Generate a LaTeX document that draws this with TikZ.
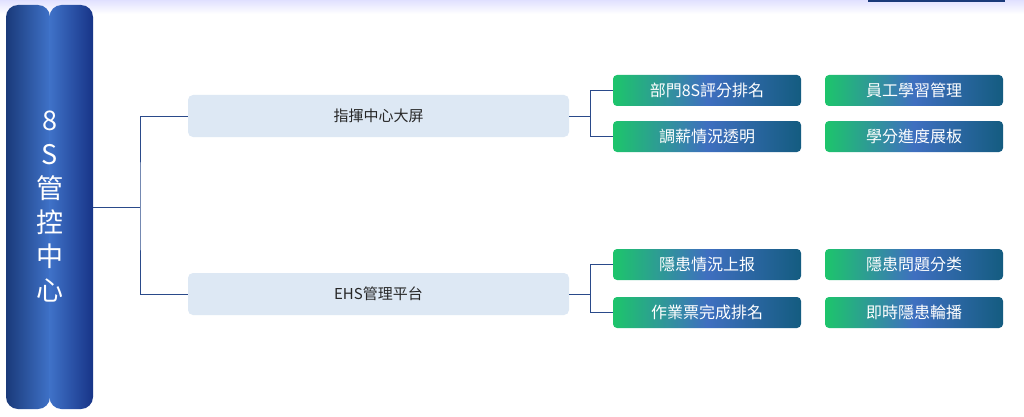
\documentclass[tikz,border=0pt]{standalone}
\usepackage{fontspec}
\newfontfamily\cjk{Noto Sans CJK TC}
\usetikzlibrary{positioning}
\definecolor{ln}{HTML}{2A4A8A}
\definecolor{lb}{HTML}{DDE8F4}
\definecolor{gA}{HTML}{1DC56B}
\definecolor{gB}{HTML}{3F6FC0}
\definecolor{gC}{HTML}{145C80}
\definecolor{bA}{HTML}{1A3A7A}
\definecolor{bB}{HTML}{3F72C8}
\begin{document}
\begin{tikzpicture}[x=1pt,y=-1pt,
  bluebox/.style={fill=lb,rounded corners=5pt,minimum width=381pt,minimum height=42pt,inner sep=0pt,font=\cjk\fontsize{15}{18}\selectfont,text=black!85},
  greenbox/.style={rounded corners=4pt,minimum height=31pt,inner sep=0pt,font=\cjk\fontsize{16}{19}\selectfont,text=white,left color=gA,right color=gC,middle color=gB},
  conn/.style={draw=ln,line width=0.8pt}]
\useasboundingbox (0,0) rectangle (1024,417);
\fill[white] (0,0) rectangle (1024,417);
\shade[top color=blue!12,bottom color=white] (0,0) rectangle (1024,14);
\fill[bA] (868,0) rectangle (1005,2);
\shade[left color=bA,right color=bB,rounded corners=12pt] (6,5) rectangle (50,409);
\shade[left color=bB,right color=bA!90!blue,rounded corners=12pt] (49.5,5) rectangle (93,409);
\node[font=\cjk\fontsize{27}{34}\selectfont,text=white,align=center] (bar) at (49.5,207) {8\\S\\管\\控\\中\\心};
\coordinate (barR) at (93,207);
\node[bluebox] (b1) at (378.5,116) {指揮中心大屏};
\node[bluebox] (b2) at (378.5,294) {EHS管理平台};
\node[greenbox,minimum width=188pt] (g1) at (707,90.5) {部門8S評分排名};
\node[greenbox,minimum width=188pt] (g2) at (707,136.5) {調薪情況透明};
\node[greenbox,minimum width=178pt] (g3) at (914,90.5) {員工學習管理};
\node[greenbox,minimum width=178pt] (g4) at (914,136.5) {學分進度展板};
\node[greenbox,minimum width=188pt] (g5) at (707,264.5) {隱患情況上报};
\node[greenbox,minimum width=188pt] (g6) at (707,312.5) {作業票完成排名};
\node[greenbox,minimum width=178pt] (g7) at (914,264.5) {隱患問題分类};
\node[greenbox,minimum width=178pt] (g8) at (914,312.5) {即時隱患輪播};
\draw[conn] (barR) -- (140,207);
\draw[conn] (b1.west) -| (140,207) |- (b2.west);
\draw[conn] (b1.east) -- (590,116);
\draw[conn] (g1.west) -| (590,116) |- (g2.west);
\draw[conn] (b2.east) -- (590,294);
\draw[conn] (g5.west) -| (590,294) |- (g6.west);
\end{tikzpicture}
\end{document}
